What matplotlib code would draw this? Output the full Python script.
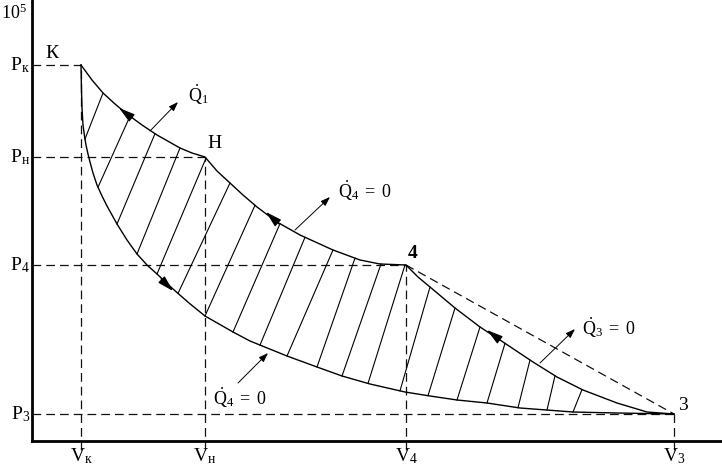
import numpy as np
import matplotlib
matplotlib.use('Agg')
import matplotlib.pyplot as plt

plt.rcParams['font.family'] = ['Liberation Serif', 'DejaVu Serif']
plt.rcParams['mathtext.fontset'] = 'custom'
plt.rcParams['mathtext.rm'] = 'Liberation Serif'
plt.rcParams['mathtext.it'] = 'Liberation Serif:italic'
plt.rcParams['mathtext.bf'] = 'Liberation Serif:bold'

# ---- data (arbitrary units) ----
state_names = ['К', 'Н', '4', '3']
V_state = [49, 173, 374, 642]
P_state = [376, 284, 176, 27]
y_labels = [r'$\mathrm{P}_{\mathrm{к}}$', r'$\mathrm{P}_{\mathrm{н}}$',
            r'$\mathrm{P}_{4}$', r'$\mathrm{P}_{3}$']
x_labels = [r'$\mathrm{V}_{\mathrm{к}}$', r'$\mathrm{V}_{\mathrm{н}}$',
            r'$\mathrm{V}_{4}$', r'$\mathrm{V}_{3}$']

# upper boundary К -> Н -> 4 -> 3
upper_V = [49, 60, 71, 83, 95, 110, 125, 148, 160, 173, 185, 198, 211, 225, 245, 268,
           301, 328, 348, 374, 386, 398, 423, 448, 468, 501, 525, 551, 585, 615, 642]
upper_P = [376, 361, 348, 337, 327, 316, 306, 293, 288, 284, 270, 258, 246, 234, 219, 206,
           191, 181, 177, 176, 164, 154, 133, 114, 101, 79, 64, 51, 38, 29, 27]
# lower boundary К -> 3
lower_V = [49, 49.5, 50, 51, 52.5, 54, 56, 58, 61, 65, 70, 75, 85, 95, 105, 115, 125,
           141, 157, 173, 201, 218, 255, 285, 310, 338, 373, 398, 425, 455, 488, 541, 585, 642]
lower_P = [376, 350, 333, 316, 305, 296, 287, 279, 268, 256, 245, 235, 217, 201, 187, 176, 167,
           152, 138, 125, 109, 100, 85, 74, 65, 57, 49, 45, 41, 38, 33, 29, 28, 27]
# hatching: start on lower curve, end on upper curve
hatch_lo_V = [53, 66, 85, 105, 125, 146, 173, 201, 228, 255, 285, 310, 336, 368,
              396, 425, 455, 486, 515, 541]
hatch_hi_V = [71, 98, 123, 148, 174, 198, 223, 248, 273, 301, 323, 349, 373, 398,
              423, 448, 473, 498, 523, 550]

# direction arrowheads on curves: (tail, tip)
flow_arrows = [((100, 323), (87, 333)), ((247, 217), (234, 229)),
               ((468, 101), (455, 111)), ((129, 162), (141, 150))]
# heat-flow leader arrows: (start, end) and labels
heat_arrows = [((118, 310), (146, 339)), ((263, 211), (298, 244)),
               ((508, 78), (543, 112)), ((206, 58), (236, 88))]
heat_labels = [r'$\dot{\mathrm{Q}}_{1}$', r'$\dot{\mathrm{Q}}_{4}\ =\ 0$',
               r'$\dot{\mathrm{Q}}_{3}\ =\ 0$', r'$\dot{\mathrm{Q}}_{4}\ =\ 0$']
heat_label_pos = [(156, 346), (306, 250), (550, 113), (181, 43)]

# ---- figure ----
fig = plt.figure(figsize=(7.22, 4.67), dpi=100)
ax = fig.add_axes([32 / 722, 26 / 467, 690 / 722, 441 / 467])
ax.set_xlim(0, 690)
ax.set_ylim(0, 441)
for s in ['top', 'right']:
    ax.spines[s].set_visible(False)
for s in ['left', 'bottom']:
    ax.spines[s].set_linewidth(2.0)
ax.set_xticks([])
ax.set_yticks([])

dash = dict(color='#111111', lw=0.9, dashes=(7, 4))

# guide lines
for V, P in zip(V_state, P_state):
    ax.plot([0, V], [P, P], **dash)
    ax.plot([V, V], [-9, P], clip_on=False, **dash)
# straight dashed 4 -> 3
ax.plot([V_state[2], V_state[3]], [P_state[2], P_state[3]], **dash)

# curves
ax.plot(upper_V, upper_P, color='black', lw=1.0)
ax.plot(lower_V, lower_P, color='black', lw=1.0)

# hatching
for lo, hi in zip(hatch_lo_V, hatch_hi_V):
    p_lo = np.interp(lo, lower_V, lower_P)
    p_hi = np.interp(hi, upper_V, upper_P)
    ax.plot([lo, hi], [p_lo, p_hi], color='black', lw=0.8)

# flow arrows
for tail, tip in flow_arrows:
    ax.annotate('', xy=tip, xytext=tail,
                arrowprops=dict(arrowstyle='-|>,head_length=1.0,head_width=0.28',
                                mutation_scale=10, color='black', lw=0.8,
                                shrinkA=0, shrinkB=0))

# heat arrows
for (a, b), lab, pos in zip(heat_arrows, heat_labels, heat_label_pos):
    ax.annotate('', xy=b, xytext=a,
                arrowprops=dict(arrowstyle='-|>,head_length=0.7,head_width=0.25',
                                mutation_scale=8, color='black', lw=0.7,
                                shrinkA=0, shrinkB=0))
    ax.text(pos[0], pos[1], lab, ha='left', va='center', fontsize=13)

# axis labels
for P, lab in zip(P_state, y_labels):
    ax.text(-2, P, lab, ha='right', va='center', fontsize=14)
for V, lab in zip(V_state, x_labels):
    ax.text(V, -15, lab, ha='center', va='center', fontsize=14)
ax.text(-31, 428, r'$10^{5}$', ha='left', va='center', fontsize=13)

# state point names
name_pos = [(20, 388), (183, 298), (381, 187), (651, 35)]
for (x, y), nm in zip(name_pos, state_names):
    ax.text(x, y, nm, ha='center', va='center', fontsize=14,
            fontweight='bold' if nm == '4' else 'normal')

fig.savefig('out.png', dpi=100)
